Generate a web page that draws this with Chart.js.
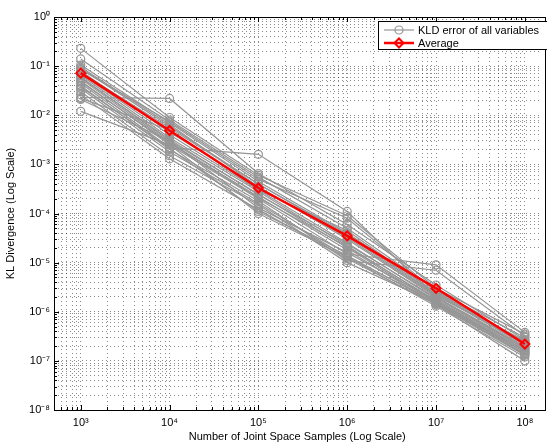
<!DOCTYPE html>
<html>
<head>
<meta charset="utf-8">
<script src="https://cdn.jsdelivr.net/npm/chart.js@4.4.1/dist/chart.umd.min.js"></script>
<style>
  html, body { margin: 0; padding: 0; background: #fff; }
</style>
</head>
<body>
<canvas id="graficoKLD" width="547" height="446"></canvas>
<script>
// sample counts on the x axis
const samples = [1e3, 1e4, 1e5, 1e6, 1e7, 1e8];

// KL divergence of each variable
const kldVars = [
  [0.23,  0.009,  0.0006,  9e-5,   3.0e-6,  3.5e-7],
  [0.14,  0.008,  0.00055, 5e-5,   2.7e-6,  3.0e-7],
  [0.105, 0.007,  0.00045, 4e-5,   2.5e-6,  2.5e-7],
  [0.09,  0.006,  0.0004,  3.5e-5, 2.2e-6,  2.2e-7],
  [0.08,  0.0045, 0.00035, 3e-5,   2.0e-6,  2.0e-7],
  [0.07,  0.004,  0.0003,  2.5e-5, 1.8e-6,  1.8e-7],
  [0.065, 0.0035, 0.00028, 2.2e-5, 1.6e-6,  1.6e-7],
  [0.06,  0.003,  0.00025, 2e-5,   1.5e-6,  1.5e-7],
  [0.055, 0.0028, 0.00022, 1.8e-5, 1.4e-6,  1.3e-7],
  [0.05,  0.0025, 0.0002,  1.5e-5, 9e-6,    3.8e-7],
  [0.045, 0.0022, 0.0016,  1.1e-4, 2.0e-6,  1.8e-7],
  [0.04,  0.002,  0.00018, 1.1e-5, 7e-6,    3.2e-7],
  [0.035, 0.0018, 0.00016, 1.3e-5, 1.3e-6,  1.2e-7],
  [0.03,  0.0015, 0.00015, 1e-5,   1.5e-6,  1.4e-7],
  [0.026, 0.0013, 0.00012, 1.2e-5, 1.4e-6,  1.0e-7],
  [0.023, 0.022,  0.00065, 6e-5,   3.5e-6,  2.7e-7],
  [0.022, 0.005,  0.0003,  4.5e-5, 2.4e-6,  2.3e-7],
  [0.021, 0.003,  0.00013, 1.6e-5, 1.7e-6,  1.7e-7],
  [0.012, 0.0025, 0.0001,  1.3e-5, 1.6e-6,  1.5e-7],
  [0.085, 0.0075, 0.0005,  8e-5,   2.6e-6,  2.4e-7],
  [0.075, 0.0055, 0.0004,  3.8e-5, 2.3e-6,  2.1e-7],
  [0.058, 0.0032, 0.00024, 2.4e-5, 1.9e-6,  1.9e-7],
  [0.048, 0.0027, 0.00021, 2.1e-5, 1.7e-6,  1.6e-7],
  [0.095, 0.0065, 0.00035, 3.2e-5, 2.1e-6,  2.6e-7],
  [0.038, 0.0021, 0.00011, 1.4e-5, 1.45e-6, 1.35e-7]
];

// average over all variables
const kldAverage = [0.072, 0.0049, 0.00033, 3.5e-5, 3.0e-6, 2.2e-7];

const legendLabels = ["KLD error of all variables", "Average"];
const xMin = 500, xMax = 1.5e8;
const yMin = 1e-8, yMax = 1;

const cinza = "rgb(150,150,150)";
const vermelho = "rgb(255,0,0)";
const corGrade = "rgba(0,0,0,0.45)";
const fonte = "'Liberation Sans', Arial, Helvetica, sans-serif";

const sup = { "0": "\u2070", "1": "\u00b9", "2": "\u00b2", "3": "\u00b3", "4": "\u2074",
  "5": "\u2075", "6": "\u2076", "7": "\u2077", "8": "\u2078", "9": "\u2079", "-": "\u207b" };

function ehPotencia(v) {
  const e = Math.log10(v);
  return Math.abs(e - Math.round(e)) < 1e-6;
}
function rotulo(v) {
  if (!ehPotencia(v)) return "";
  const e = String(Math.round(Math.log10(v)));
  return "10" + e.split("").map(c => sup[c]).join("");
}
// 1..9 x 10^n inside [min, max]
function ticksLog(min, max) {
  const lista = [];
  for (let n = Math.floor(Math.log10(min)); n <= Math.ceil(Math.log10(max)); n++) {
    for (let k = 1; k <= 9; k++) {
      const v = k * Math.pow(10, n);
      if (v >= min * 0.999999 && v <= max * 1.000001) lista.push({ value: v });
    }
  }
  return lista;
}

const datasets = [{
  label: legendLabels[1],
  data: samples.map((x, i) => ({ x: x, y: kldAverage[i] })),
  borderColor: vermelho,
  borderWidth: 2.5,
  pointStyle: "rectRot",
  pointRadius: 4.5,
  pointBorderWidth: 2,
  pointBorderColor: vermelho,
  pointBackgroundColor: "rgba(0,0,0,0)"
}];
kldVars.forEach((linha, j) => {
  datasets.push({
    label: j === 0 ? legendLabels[0] : "",
    data: samples.map((x, i) => ({ x: x, y: linha[i] })),
    borderColor: cinza,
    borderWidth: 1.2,
    pointStyle: "circle",
    pointRadius: 4,
    pointBorderWidth: 1.2,
    pointBorderColor: cinza,
    pointBackgroundColor: "rgba(0,0,0,0)"
  });
});

// frame, inner tick marks and legend box, MATLAB style
const moldura = {
  id: "moldura",
  afterDraw(chart) {
    const { ctx, chartArea: a, scales } = chart;
    ctx.save();
    ctx.strokeStyle = "#000";
    ctx.lineWidth = 1;
    ctx.beginPath();
    scales.x.ticks.forEach(t => {
      const px = Math.round(scales.x.getPixelForValue(t.value)) + 0.5;
      const len = ehPotencia(t.value) ? 5 : 3;
      ctx.moveTo(px, a.bottom); ctx.lineTo(px, a.bottom - len);
      ctx.moveTo(px, a.top); ctx.lineTo(px, a.top + len);
    });
    scales.y.ticks.forEach(t => {
      const py = Math.round(scales.y.getPixelForValue(t.value)) + 0.5;
      const len = ehPotencia(t.value) ? 5 : 3;
      ctx.moveTo(a.left, py); ctx.lineTo(a.left + len, py);
    });
    ctx.stroke();
    ctx.strokeRect(Math.round(a.left) + 0.5, Math.round(a.top) + 0.5,
      Math.round(a.right - a.left) + 4, Math.round(a.bottom - a.top));

    // legend (runs past the right edge, as in the source figure)
    const bx = 378.5, by = 21.5, bw = 200, bh = 28;
    ctx.fillStyle = "#fff";
    ctx.fillRect(bx, by, bw, bh);
    ctx.strokeStyle = "#000";
    ctx.lineWidth = 1;
    ctx.strokeRect(bx, by, bw, bh);
    ctx.font = "11px " + fonte;
    ctx.textBaseline = "middle";
    ctx.textAlign = "left";
    const linhas = [
      { y: 30, cor: cinza, w: 1.2, label: legendLabels[0], estilo: "circle", r: 4, bw: 1.2 },
      { y: 43, cor: vermelho, w: 2.5, label: legendLabels[1], estilo: "rectRot", r: 4.5, bw: 2 }
    ];
    linhas.forEach(l => {
      ctx.strokeStyle = l.cor;
      ctx.lineWidth = l.w;
      ctx.beginPath();
      ctx.moveTo(384, l.y); ctx.lineTo(414, l.y);
      ctx.stroke();
      ctx.lineWidth = l.bw;
      ctx.fillStyle = "rgba(0,0,0,0)";
      Chart.helpers.drawPoint(ctx, { pointStyle: l.estilo, radius: l.r, borderWidth: l.bw, rotation: 0 }, 399, l.y);
      ctx.fillStyle = "#000";
      ctx.fillText(l.label, 418, l.y + 1);
    });
    ctx.restore();
  }
};

const ctx = document.getElementById("graficoKLD").getContext("2d");
new Chart(ctx, {
  type: "line",
  data: { datasets: datasets },
  options: {
    responsive: false,
    animation: false,
    devicePixelRatio: 1,
    layout: { padding: { top: 17, right: 0, left: 0, bottom: 0 } },
    plugins: { legend: { display: false }, tooltip: { enabled: false } },
    scales: {
      x: {
        type: "logarithmic",
        min: xMin,
        max: xMax,
        afterBuildTicks: s => { s.ticks = ticksLog(xMin, xMax); },
        afterFit: s => { s.height = 36; },
        grid: { color: corGrade, lineWidth: 1, drawTicks: false },
        border: { display: false, dash: [1, 3] },
        ticks: {
          autoSkip: false, maxRotation: 0, padding: 6,
          color: "#000", font: { family: fonte, size: 11 },
          callback: v => rotulo(v)
        },
        title: {
          display: true, text: "Number of Joint Space Samples (Log Scale)",
          color: "#000", font: { family: fonte, size: 11 }, padding: { top: 0, bottom: 2 }
        }
      },
      y: {
        type: "logarithmic",
        min: yMin,
        max: yMax,
        afterBuildTicks: s => { s.ticks = ticksLog(yMin, yMax); },
        afterFit: s => { s.width = 54; },
        grid: { color: corGrade, lineWidth: 1, drawTicks: false },
        border: { display: false, dash: [1, 3] },
        ticks: {
          autoSkip: false, padding: 4,
          color: "#000", font: { family: fonte, size: 11 },
          callback: v => rotulo(v)
        },
        title: {
          display: true, text: "KL Divergence (Log Scale)",
          color: "#000", font: { family: fonte, size: 11 }, padding: { top: 4, bottom: 0 }
        }
      }
    }
  },
  plugins: [moldura]
});
</script>
</body>
</html>
